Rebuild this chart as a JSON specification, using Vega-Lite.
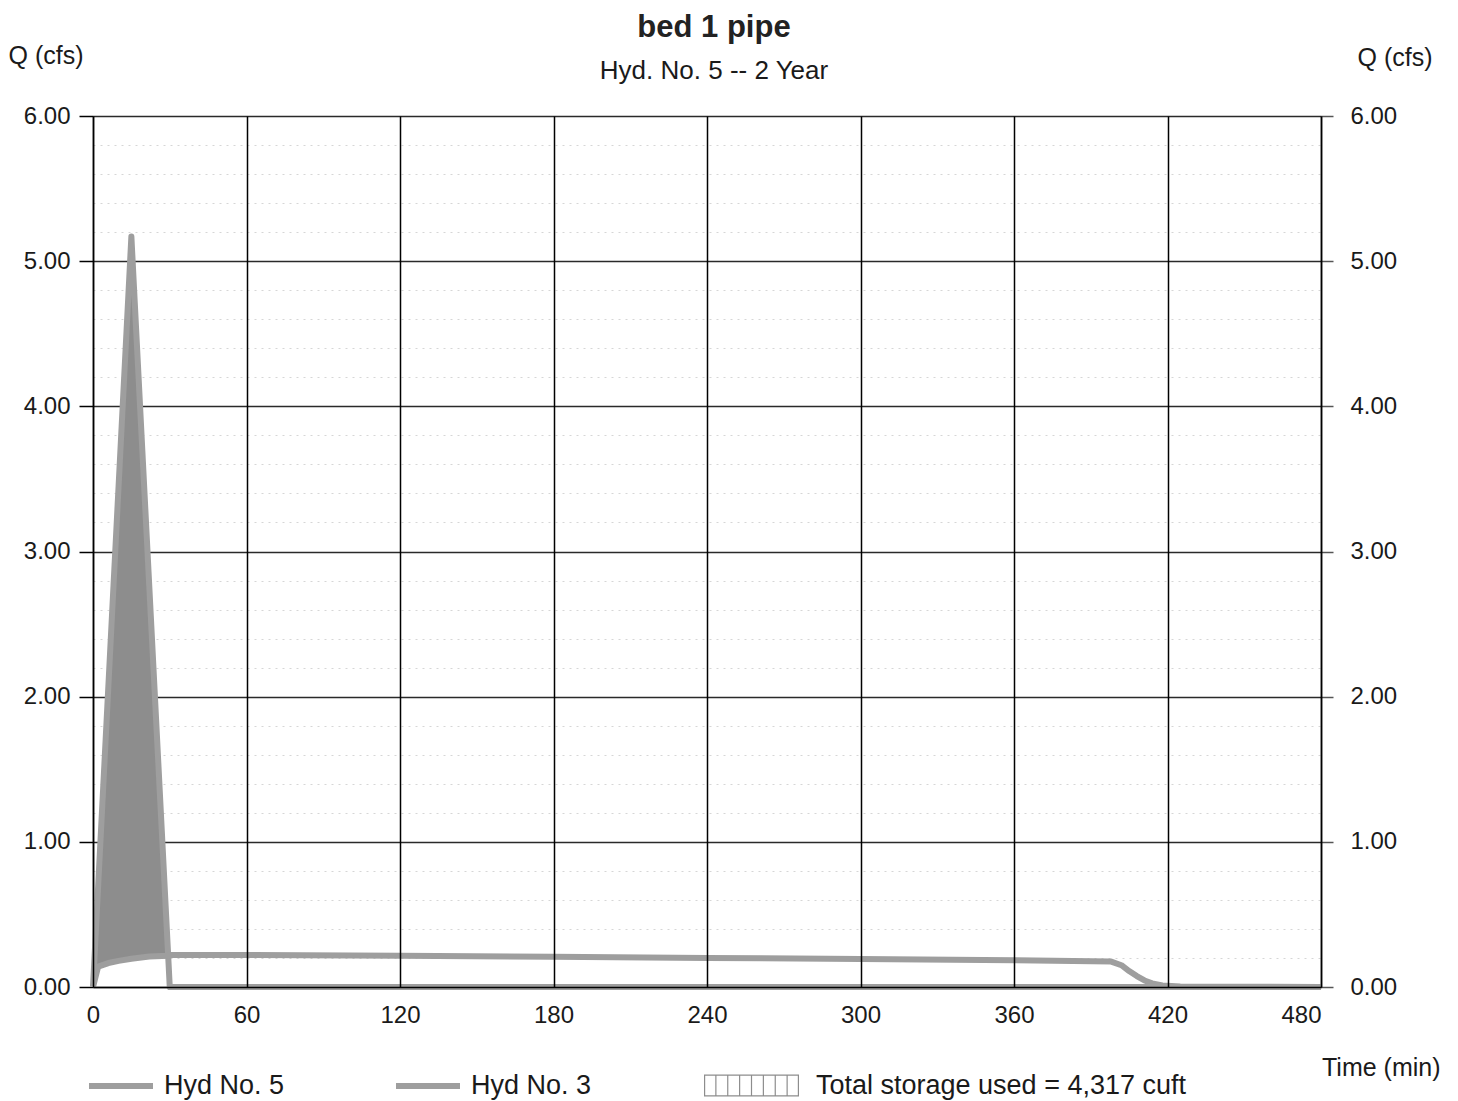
{
  "$schema": "https://vega.github.io/schema/vega-lite/v6.json",
  "autosize": "none",
  "width": 1228,
  "height": 871,
  "padding": {"left": 93, "top": 116, "right": 137, "bottom": 114},
  "background": "#ffffff",
  "config": {
    "font": "Liberation Sans",
    "view": {"stroke": null},
    "axis": {"labelFont": "Liberation Sans", "titleFont": "Liberation Sans", "labelColor": "#1a1a1a", "titleColor": "#1a1a1a", "titleFontWeight": "normal"},
    "legend": {"labelFont": "Liberation Sans", "labelColor": "#1a1a1a"}
  },
  "title": {
    "text": "bed 1 pipe",
    "subtitle": "Hyd. No. 5 -- 2 Year",
    "font": "Liberation Sans",
    "fontSize": 31,
    "fontWeight": "bold",
    "color": "#222222",
    "subtitleFont": "Liberation Sans",
    "subtitleFontSize": 26,
    "subtitleColor": "#1a1a1a",
    "subtitlePadding": 14,
    "offset": -42,
    "anchor": "middle",
    "dx": 7
  },
  "data": {
    "values": [
      {"t": 0, "hyd3": 0, "hyd5": 0},
      {"t": 2, "hyd3": 0.69, "hyd5": 0.14},
      {"t": 6, "hyd3": 2.07, "hyd5": 0.165},
      {"t": 10, "hyd3": 3.45, "hyd5": 0.18},
      {"t": 15, "hyd3": 5.17, "hyd5": 0.195},
      {"t": 22, "hyd3": 2.76, "hyd5": 0.21},
      {"t": 29.4, "hyd3": 0.21, "hyd5": 0.215},
      {"t": 30, "hyd3": 0, "hyd5": 0.22},
      {"t": 60, "hyd3": 0, "hyd5": 0.22},
      {"t": 120, "hyd3": 0, "hyd5": 0.215},
      {"t": 180, "hyd3": 0, "hyd5": 0.208},
      {"t": 240, "hyd3": 0, "hyd5": 0.2},
      {"t": 300, "hyd3": 0, "hyd5": 0.193},
      {"t": 360, "hyd3": 0, "hyd5": 0.185},
      {"t": 398, "hyd3": 0, "hyd5": 0.175},
      {"t": 402, "hyd3": 0, "hyd5": 0.15},
      {"t": 405, "hyd3": 0, "hyd5": 0.11},
      {"t": 408, "hyd3": 0, "hyd5": 0.075},
      {"t": 411, "hyd3": 0, "hyd5": 0.045},
      {"t": 414, "hyd3": 0, "hyd5": 0.025},
      {"t": 418, "hyd3": 0, "hyd5": 0.01},
      {"t": 425, "hyd3": 0, "hyd5": 0.003},
      {"t": 480, "hyd3": 0, "hyd5": 0}
    ]
  },
  "encoding": {
    "x": {
      "field": "t",
      "type": "quantitative",
      "scale": {"domain": [0, 480], "nice": false, "zero": false},
      "axis": {
        "values": [0, 60, 120, 180, 240, 300, 360, 420, 480],
        "format": "d",
        "grid": true,
        "gridColor": "#000000",
        "gridWidth": 1.5,
        "ticks": false,
        "domain": true,
        "domainColor": "#000000",
        "domainWidth": 1.5,
        "labelFontSize": 24,
        "labelPadding": 16,
        "labelFlush": false,
        "labelAlign": {"condition": {"test": "datum.value === 480", "value": "right"}, "value": "center"},
        "zindex": 1,
        "title": "Time (min)",
        "titleFontSize": 25,
        "titleAlign": "right",
        "titleAnchor": null,
        "titleBaseline": "alphabetic",
        "titleX": 1347,
        "titleY": 88
      }
    }
  },
  "layer": [
    {
      "transform": [{"filter": "datum.t <= 29.4"}],
      "mark": {"type": "area", "opacity": 1, "interpolate": "linear"},
      "encoding": {
        "y": {
          "field": "hyd3",
          "type": "quantitative",
          "scale": {"domain": [0, 6], "nice": false},
          "axis": {
            "orient": "left",
            "values": [0.2, 0.4, 0.6, 0.8, 1.2, 1.4, 1.6, 1.8, 2.2, 2.4, 2.6, 2.8, 3.2, 3.4, 3.6, 3.8, 4.2, 4.4, 4.6, 4.8, 5.2, 5.4, 5.6, 5.8],
            "grid": true,
            "gridColor": "#d6d6d6",
            "gridDash": [2, 5],
            "gridWidth": 1,
            "labels": false,
            "ticks": false,
            "domain": false,
            "title": null
          }
        },
        "y2": {"field": "hyd5"},
        "fill": {
          "datum": "Total storage used = 4,317 cuft",
          "scale": {"domain": ["Total storage used = 4,317 cuft"], "range": ["#8d8d8d"]},
          "legend": {
            "orient": "none",
            "legendX": 611,
            "legendY": 922,
            "direction": "horizontal",
            "title": null,
            "labelFontSize": 27,
            "labelLimit": 600,
            "labelOffset": 17,
            "symbolType": "M-1,-0.23H1V0.23H-1Z M-0.975,-0.205V0.205H0.975V-0.205Z M-0.7625,-0.205h0.025v0.41h-0.025Z M-0.5125,-0.205h0.025v0.41h-0.025Z M-0.2625,-0.205h0.025v0.41h-0.025Z M-0.0125,-0.205h0.025v0.41h-0.025Z M0.2375,-0.205h0.025v0.41h-0.025Z M0.4875,-0.205h0.025v0.41h-0.025Z M0.7375,-0.205h0.025v0.41h-0.025Z",
            "symbolSize": 9025,
            "symbolStrokeWidth": 0,
            "symbolStrokeColor": "transparent"
          }
        }
      }
    },
    {
      "mark": {"type": "line", "strokeWidth": 6, "strokeJoin": "round", "strokeCap": "butt"},
      "encoding": {
        "y": {
          "field": "hyd3",
          "type": "quantitative",
          "scale": {"domain": [0, 6], "nice": false},
          "axis": {
            "orient": "left",
            "values": [0, 1, 2, 3, 4, 5, 6],
            "format": ".2f",
            "grid": true,
            "gridColor": "#2a2a2a",
            "gridWidth": 1.5,
            "ticks": true,
            "tickSize": 14,
            "tickColor": "#000000",
            "tickWidth": 1.5,
            "domain": true,
            "domainColor": "#000000",
            "domainWidth": 1.5,
            "labelFontSize": 24,
            "labelPadding": 9,
            "labelFlush": false,
            "title": "Q (cfs)",
            "titleFontSize": 25,
            "titleAngle": 0,
            "titleAlign": "left",
            "titleAnchor": null,
            "titleBaseline": "alphabetic",
            "titleX": -85,
            "titleY": -53
          }
        },
        "color": {
          "datum": "Hyd No. 3",
          "scale": {"domain": ["Hyd No. 5", "Hyd No. 3"], "range": ["#9e9e9e", "#9e9e9e"]},
          "legend": {
            "orient": "none",
            "legendX": -7,
            "legendY": 935,
            "direction": "horizontal",
            "title": null,
            "labelFontSize": 27,
            "labelLimit": 600,
            "labelOffset": 8,
            "columnPadding": 99,
            "symbolType": "stroke",
            "symbolSize": 4096,
            "symbolStrokeWidth": 6
          }
        }
      }
    },
    {
      "mark": {"type": "line", "strokeWidth": 6, "strokeJoin": "round", "strokeCap": "butt"},
      "encoding": {
        "y": {
          "field": "hyd5",
          "type": "quantitative",
          "scale": {"domain": [0, 6], "nice": false},
          "axis": {
            "orient": "right",
            "values": [0, 1, 2, 3, 4, 5, 6],
            "format": ".2f",
            "grid": false,
            "ticks": true,
            "tickSize": 12,
            "tickColor": "#555555",
            "tickWidth": 1.5,
            "domain": true,
            "domainColor": "#000000",
            "domainWidth": 1.5,
            "labelFontSize": 24,
            "labelPadding": 17,
            "labelFlush": false,
            "title": "Q (cfs)",
            "titleFontSize": 25,
            "titleAngle": 0,
            "titleAlign": "left",
            "titleAnchor": null,
            "titleBaseline": "alphabetic",
            "titleX": 36,
            "titleY": -51
          }
        },
        "color": {"datum": "Hyd No. 5"}
      }
    }
  ],
  "resolve": {"axis": {"y": "independent"}}
}
